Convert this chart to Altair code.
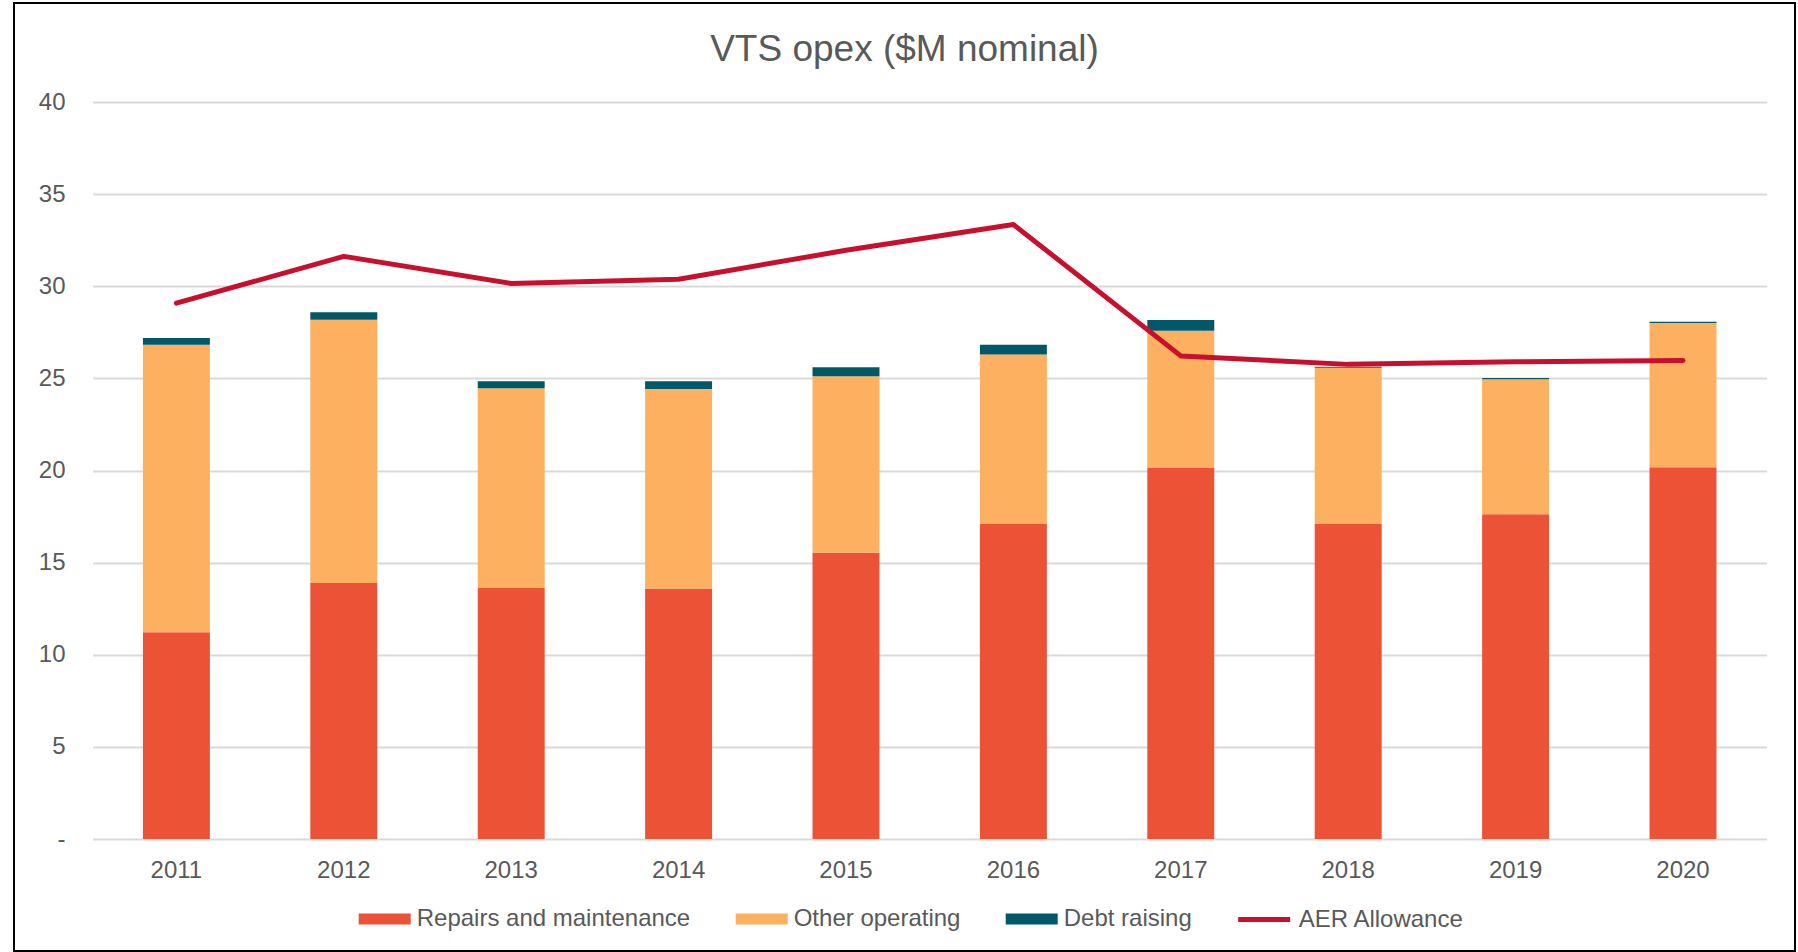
import altair as alt
import pandas as pd

# ---- data ----
years = ["2011", "2012", "2013", "2014", "2015", "2016", "2017", "2018", "2019", "2020"]
repairs = [11.22, 13.90, 13.65, 13.60, 15.54, 17.12, 20.14, 17.12, 17.63, 20.18]
other_operating = [15.61, 14.28, 10.82, 10.83, 9.58, 9.18, 7.45, 8.46, 7.32, 7.82]
debt_raising = [0.36, 0.41, 0.38, 0.42, 0.48, 0.53, 0.58, 0.05, 0.07, 0.07]
aer_allowance = [29.08, 31.62, 30.15, 30.38, 31.95, 33.35, 26.22, 25.76, 25.90, 25.97]

bar_series = ["Repairs and maintenance", "Other operating", "Debt raising"]
bar_colors = ["#EB5236", "#FDB060", "#005868"]
line_series = ["AER Allowance"]
line_colors = ["#C8102E"]
y_ticks = [0, 5, 10, 15, 20, 25, 30, 35, 40]
title_text = "VTS opex ($M nominal)"

# ---- tables built from the arrays ----
rows = []
for i, y in enumerate(years):
    for k, vals in enumerate([repairs, other_operating, debt_raising]):
        rows.append({"year": y, "series": bar_series[k], "value": vals[i], "ord": k})
bars_df = pd.DataFrame(rows)
line_df = pd.DataFrame({"year": years, "aer": aer_allowance, "series": line_series[0]})

FONT = "Liberation Sans"
GREY = "#595959"

common_legend = dict(
    title=None,
    orient="none",
    direction="horizontal",
    padding=0,
    labelFont=FONT,
    labelFontSize=24,
    labelColor=GREY,
    labelLimit=600,
    labelOffset=6,
    columnPadding=45,
    symbolSize=2704,
    symbolOpacity=1,
)

bar_legend = alt.Legend(
    legendX=266, legendY=791, columns=3,
    symbolType="M-1,-0.21H1V0.21H-1Z", symbolStrokeWidth=0,
    **common_legend,
)
line_legend = alt.Legend(
    legendX=1143, legendY=789, columns=1,
    symbolType="stroke", symbolStrokeWidth=5,
    **common_legend,
)

x_enc = alt.X(
    "year:N",
    scale=alt.Scale(paddingInner=0.6, paddingOuter=0.3),
    axis=alt.Axis(title=None, labelAngle=0, domain=False, ticks=False, tickSize=0,
                  labelPadding=19, grid=False, labelFont=FONT, labelFontSize=24,
                  labelColor=GREY),
)

bars = alt.Chart(bars_df).mark_bar().encode(
    x=x_enc,
    y=alt.Y(
        "value:Q",
        stack="zero",
        scale=alt.Scale(domain=[0, 40], nice=False),
        axis=alt.Axis(
            title=None,
            values=y_ticks,
            labelExpr="datum.value === 0 ? '-\u00a0\u00a0' : datum.label",
            domain=False,
            ticks=False,
            tickSize=0,
            labelPadding=27.7,
            gridColor="#d9d9d9",
            gridWidth=2,
            labelFont=FONT,
            labelFontSize=24,
            labelColor=GREY,
        ),
    ),
    fill=alt.Fill("series:N", scale=alt.Scale(domain=bar_series, range=bar_colors),
                  legend=bar_legend),
    order=alt.Order("ord:Q", sort="ascending"),
)

line = alt.Chart(line_df).mark_line(strokeWidth=5, strokeCap="round", strokeJoin="round").encode(
    x=alt.X("year:N"),
    y=alt.Y("aer:Q"),
    stroke=alt.Stroke("series:N", scale=alt.Scale(domain=line_series, range=line_colors),
                      legend=line_legend),
)

border = alt.Chart(alt.Data(values=[{"a": 1}])).mark_rect(
    fill="transparent", stroke="#000000", strokeWidth=2
).encode(
    x=alt.value(-78.7), x2=alt.value(1702.3), y=alt.value(-99), y2=alt.value(849)
)

chart = alt.layer(bars, line, border).properties(
    width=1674,
    height=737,
    background="white",
    autosize=alt.AutoSizeParams(type="none"),
    padding={"left": 92.7, "top": 102, "right": 31.3, "bottom": 113},
    title=alt.TitleParams(
        text=title_text, fontSize=37, font=FONT, fontWeight="normal", color=GREY,
        anchor="middle", frame="bounds", offset=-67,
    ),
).configure_view(strokeWidth=0, stroke="transparent")

chart.save("out.html", embed_options={"renderer": "svg", "actions": False})
